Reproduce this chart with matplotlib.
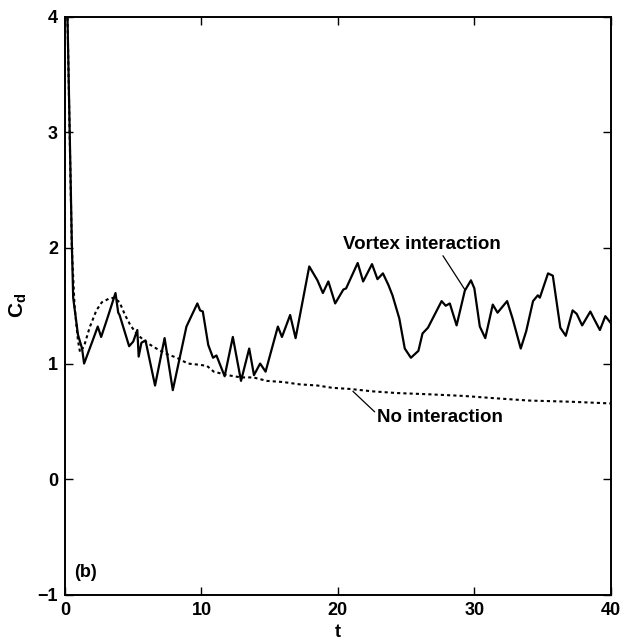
import matplotlib.pyplot as plt

plt.rcParams['font.family'] = ['Liberation Sans', 'DejaVu Sans']
plt.rcParams['font.weight'] = 'bold'

# Drag coefficient history, with vortex interaction
t_vortex = [0.15, 0.5, 0.6, 0.95, 1.25, 1.4, 2.0, 2.4, 2.65, 3.1, 3.7, 3.9, 4.0,
            4.7, 5.0, 5.3, 5.4, 5.6, 5.9, 6.6, 7.3, 7.9, 8.9, 9.7, 9.9, 10.1,
            10.5, 10.85, 11.1, 11.7, 12.3, 12.9, 13.5, 13.85, 14.3, 14.7, 15.6,
            15.9, 16.5, 16.9, 17.9, 18.5, 18.9, 19.3, 19.8, 20.4, 20.6, 21.45,
            21.85, 22.5, 22.9, 23.3, 23.7, 24.0, 24.5, 24.9, 25.35, 25.9, 26.2,
            26.6, 27.6, 27.9, 28.2, 28.7, 29.3, 29.75, 30.0, 30.4, 30.8, 31.35,
            31.7, 32.4, 32.8, 33.4, 33.8, 34.3, 34.65, 34.8, 35.4, 35.75, 36.3,
            36.7, 37.2, 37.5, 37.9, 38.5, 38.8, 39.2, 39.6, 40.0]
cd_vortex = [4.2, 2.05, 1.57, 1.25, 1.13, 1.0, 1.19, 1.32, 1.23, 1.39, 1.61, 1.44,
             1.42, 1.15, 1.19, 1.29, 1.06, 1.18, 1.2, 0.81, 1.22, 0.77, 1.32, 1.52,
             1.46, 1.45, 1.16, 1.05, 1.07, 0.89, 1.23, 0.85, 1.13, 0.9, 1.0, 0.93,
             1.32, 1.23, 1.42, 1.22, 1.84, 1.72, 1.61, 1.71, 1.52, 1.64, 1.65,
             1.87, 1.71, 1.86, 1.73, 1.78, 1.68, 1.59, 1.39, 1.13, 1.05, 1.11,
             1.26, 1.31, 1.54, 1.5, 1.52, 1.33, 1.63, 1.72, 1.65, 1.32, 1.22,
             1.51, 1.44, 1.54, 1.39, 1.13, 1.28, 1.54, 1.59, 1.57, 1.78, 1.76,
             1.31, 1.24, 1.46, 1.43, 1.33, 1.45, 1.38, 1.29, 1.41, 1.35]

# Drag coefficient history, no interaction
t_single = [0.15, 0.5, 0.7, 0.95, 1.1, 1.4, 1.8, 2.3, 2.7, 3.2, 3.6, 4.0, 4.4,
            4.8, 5.3, 6.0, 6.7, 7.5, 8.2, 9.0, 9.8, 10.4, 10.9, 11.9, 12.9,
            13.8, 14.8, 16.0, 17.2, 18.5, 19.6, 20.9, 22.5, 24.3, 26.5, 29.2,
            31.5, 34.0, 37.0, 40.0]
cd_single = [4.2, 2.0, 1.5, 1.2, 1.1, 1.15, 1.31, 1.46, 1.53, 1.56, 1.57, 1.53,
             1.42, 1.33, 1.25, 1.18, 1.13, 1.08, 1.05, 1.0, 0.99, 0.98, 0.93,
             0.9, 0.88, 0.88, 0.85, 0.84, 0.82, 0.81, 0.79, 0.78, 0.76, 0.745,
             0.735, 0.72, 0.70, 0.68, 0.67, 0.655]

fig = plt.figure(figsize=(6.31, 6.43), dpi=100)
ax = fig.add_axes([0.103, 0.075, 0.865, 0.899])

ax.plot(t_vortex, cd_vortex, color='black', linewidth=1.6, solid_joinstyle='round')
ax.plot(t_single, cd_single, color='black', linewidth=1.5, linestyle=(0, (1.5, 1.5)))

ax.set_xlim(0, 40)
ax.set_ylim(-1, 4)
ax.set_xticks([0, 10, 20, 30, 40])
ax.set_yticks([-1, 0, 1, 2, 3, 4])
ax.tick_params(direction='in', length=6, width=1, top=True, right=True,
               labelsize=13, pad=5)
for s in ax.spines.values():
    s.set_linewidth(1.4)

ax.set_xlabel('t', fontsize=13, fontweight='bold', labelpad=4)
ax.set_ylabel('C$_\\mathregular{d}$', fontsize=15, fontweight='bold', labelpad=6)

ax.annotate('Vortex interaction', xy=(29.3, 1.64), xytext=(20.4, 2.03),
            fontsize=13.5, fontweight='bold', va='center', ha='left',
            arrowprops=dict(arrowstyle='-', color='black', linewidth=0.9,
                            shrinkA=0, shrinkB=0, relpos=(0.62, 0.0)))
ax.annotate('No interaction', xy=(21.1, 0.76), xytext=(22.9, 0.53),
            fontsize=13.5, fontweight='bold', va='center', ha='left',
            arrowprops=dict(arrowstyle='-', color='black', linewidth=0.9,
                            shrinkA=0, shrinkB=0, relpos=(0.0, 0.7)))
ax.text(0.7, -0.81, '(b)', fontsize=13, fontweight='bold', va='center', ha='left')

fig.savefig('out.png', dpi=100)
